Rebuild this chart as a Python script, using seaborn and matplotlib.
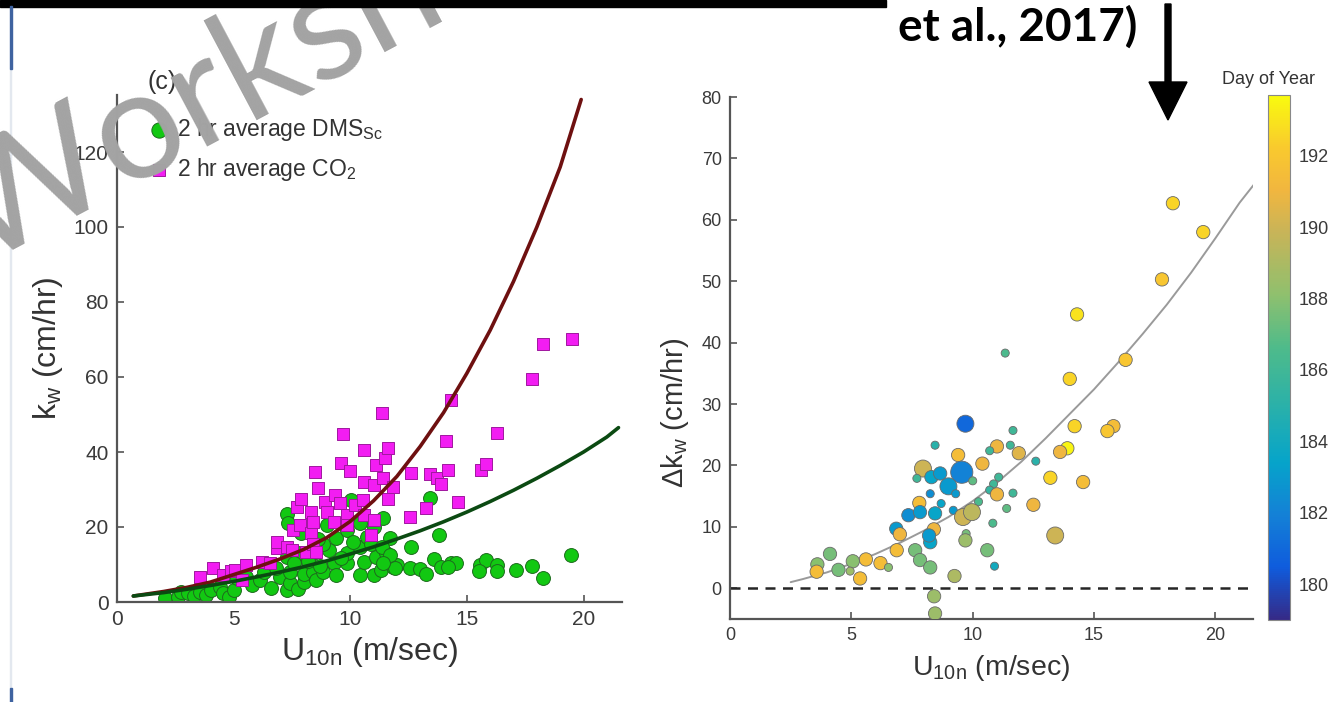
import matplotlib
matplotlib.use("Agg")
import matplotlib.pyplot as plt
import matplotlib.colors as mcolors
import matplotlib.patches as mpatches
import numpy as np
import pandas as pd
import seaborn as sns

# ---- data ----
# left panel: 2 hr averages
dms_u = [2.05, 2.6, 2.75, 3.05, 3.3, 3.55, 3.8, 4.05, 4.4, 4.55, 4.8, 5.0, 5.15, 5.55, 5.8,
         6.15, 6.3, 6.6, 7.0, 7.3, 7.4, 7.4, 7.75, 8.0, 8.0, 8.4, 8.55, 8.85, 9.3, 9.4,
         9.85, 10.4, 11.0, 11.3, 11.85, 10.6, 11.1, 7.3, 7.85, 8.4, 9.1, 9.85, 10.4, 11.55, 8.85,
         9.4, 10.7, 11.7, 9.85, 10.4, 11.0, 11.4, 10.05, 7.3, 7.35, 6.8, 7.6, 8.2, 8.7, 9.6,
         10.1, 10.9, 8.6, 12.0, 13.4, 13.8, 12.6, 11.35, 11.7, 13.6, 14.3, 14.55, 13.9, 14.2, 11.9,
         12.55, 13.0, 13.25, 15.55, 15.8, 15.5, 16.3, 16.3, 17.1, 17.8, 18.25, 19.45, 11.4, 7.9, 9.0]
dms_k = [1.0, 1.3, 2.7, 2.3, 1.5, 2.7, 1.8, 3.2, 4.1, 2.3, 1.4, 3.2, 6.3, 6.7, 4.5,
         5.9, 8.1, 3.8, 6.7, 3.2, 5.0, 8.1, 3.6, 5.4, 7.6, 8.1, 5.9, 8.1, 10.3, 7.2,
         10.3, 7.2, 7.2, 8.5, 9.4, 10.8, 12.1, 12.1, 13.0, 13.0, 13.9, 13.0, 14.8, 13.0, 15.6,
         17.0, 17.4, 17.0, 19.2, 21.0, 20.1, 22.3, 27.2, 23.6, 21.0, 9.0, 10.5, 11.0, 9.6, 11.8,
         16.0, 15.5, 16.8, 10.0, 27.8, 18.0, 14.7, 14.7, 12.5, 11.6, 10.5, 10.5, 9.4, 9.3, 9.2,
         9.2, 8.7, 7.6, 9.9, 11.2, 8.4, 9.9, 8.4, 8.5, 9.6, 6.5, 12.5, 10.4, 18.5, 20.5]

co2_u = [3.55, 4.1, 4.55, 4.9, 5.05, 5.35, 5.55, 6.2, 6.55, 6.85, 6.85, 7.3, 7.5, 7.55, 7.85,
         7.7, 7.9, 8.1, 8.3, 8.3, 8.4, 8.4, 8.55, 8.5, 8.6, 8.9, 9.0, 9.3, 9.35, 9.55,
         9.6, 9.7, 9.85, 9.85, 10.0, 10.2, 10.55, 10.6, 10.6, 10.6, 10.9, 11.0, 11.0, 11.1, 11.35,
         11.4, 11.5, 11.6, 11.6, 11.85, 12.55, 12.6, 13.25, 13.4, 13.7, 13.9, 14.1, 14.2, 14.3, 14.6,
         15.6, 15.8, 16.3, 17.8, 18.25, 19.5]
co2_k = [6.7, 9.0, 7.2, 8.3, 8.5, 5.9, 9.9, 10.7, 10.3, 14.3, 16.1, 14.7, 13.9, 19.2, 20.5,
         25.4, 27.6, 13.4, 18.3, 24.1, 15.6, 21.4, 13.4, 34.6, 30.5, 26.7, 24.1, 21.4, 28.5, 26.3,
         37.2, 44.8, 23.2, 20.5, 34.9, 25.9, 27.2, 23.2, 32.0, 40.5, 17.9, 21.9, 31.2, 36.5, 50.3,
         33.0, 38.3, 41.0, 27.5, 30.8, 22.6, 34.3, 25.0, 34.1, 33.0, 31.5, 43.0, 35.2, 54.0, 26.8,
         35.2, 36.8, 45.2, 59.5, 68.8, 70.0]

# fitted curves
fit_co2_u = [0.7, 2, 3, 4, 5, 6, 7, 8, 9, 10, 11, 12, 13, 14, 15, 16, 17, 18, 19, 19.9]
fit_co2_k = [1.6, 2.8, 3.9, 5.3, 7.3, 9.3, 11.5, 14.0, 17.2, 21.5, 27.0, 33.5, 41.5, 50.5,
             61.0, 72.5, 85.5, 100.0, 116.0, 134.0]
fit_dms_u = [0.7, 2, 3, 4, 5, 6, 7, 8, 9, 10, 11, 12, 13, 14, 15, 16, 17, 18, 19, 20, 21, 21.5]
fit_dms_k = [1.6, 2.5, 3.4, 4.4, 5.5, 6.7, 8.0, 9.4, 11.0, 12.8, 14.7, 16.8, 19.0, 21.4,
             24.0, 26.8, 29.8, 33.0, 36.4, 40.0, 44.0, 46.5]

# right panel: delta k_w, coloured by day of year, sized by weight class
dk_u = [11.34, 9.7, 11.66, 8.45, 9.4, 11.0, 10.7, 11.55, 11.9, 10.4, 7.95, 9.55, 10.0, 8.3, 8.66,
        7.7, 9.0, 9.3, 8.25, 11.07, 10.86, 10.7, 11.0, 11.66, 7.8, 8.7, 9.2, 10.24, 7.35, 7.83,
        9.6, 9.97, 11.4, 10.83, 8.45, 6.85, 7.0, 8.4, 8.25, 8.2, 9.73, 9.7, 6.87, 7.63, 7.83,
        8.25, 10.6, 10.9, 9.25, 5.6, 6.2, 5.36, 6.53, 5.06, 4.95, 4.47, 4.12, 3.6, 3.57, 8.41,
        8.45, 18.25, 19.5, 17.8, 14.3, 16.3, 14.0, 14.2, 15.8, 15.55, 13.9, 13.6, 12.6, 13.2, 14.55,
        12.5, 13.4]
dk_val = [38.3, 26.8, 25.7, 23.3, 21.7, 23.1, 22.4, 23.3, 22.0, 20.3, 19.5, 18.9, 17.5, 18.1, 18.7,
          17.9, 16.6, 15.4, 15.4, 18.1, 17.0, 16.0, 15.3, 15.5, 13.9, 13.8, 12.7, 14.1, 11.9, 12.4,
          11.6, 12.4, 13.0, 10.6, 12.2, 9.7, 8.8, 9.6, 7.5, 8.6, 8.9, 7.8, 6.2, 6.2, 4.6,
          3.4, 6.2, 3.6, 2.0, 4.7, 4.1, 1.6, 3.4, 4.4, 2.8, 3.0, 5.6, 3.9, 2.7, -1.3,
          -4.1, 62.7, 58.0, 50.3, 44.6, 37.2, 34.1, 26.4, 26.4, 25.6, 22.8, 22.2, 20.7, 18.0, 17.3,
          13.6, 8.6]
dk_day = [186.5, 181.0, 186.0, 185.0, 191.5, 191.0, 186.0, 186.0, 190.5, 191.0, 190.0, 182.0, 187.0, 183.5, 183.0,
          186.0, 183.0, 183.0, 182.5, 186.0, 186.0, 185.5, 191.0, 186.0, 191.5, 183.5, 183.0, 186.5, 182.5, 183.0,
          190.0, 189.5, 187.0, 186.5, 183.5, 183.0, 191.0, 191.0, 183.5, 183.0, 187.5, 188.5, 191.5, 187.5, 187.5,
          187.5, 187.5, 184.0, 189.0, 191.5, 191.5, 191.5, 188.0, 188.0, 188.5, 187.5, 187.5, 188.0, 191.5, 188.5,
          188.5, 192.5, 192.5, 192.0, 193.0, 192.0, 192.5, 192.5, 191.5, 192.0, 193.5, 191.0, 185.0, 192.5, 191.5,
          191.0, 190.0]
dk_weight = [1, 3, 1, 1, 2, 2, 1, 1, 2, 2, 3, 4, 1, 2, 2,
             1, 3, 1, 1, 1, 1, 1, 2, 1, 2, 1, 1, 1, 2, 2,
             3, 3, 1, 1, 2, 2, 2, 2, 2, 2, 1, 2, 2, 2, 2,
             2, 2, 1, 2, 2, 2, 2, 1, 2, 1, 2, 2, 2, 2, 2,
             2, 2, 2, 2, 2, 2, 2, 2, 2, 2, 2, 2, 1, 2, 2,
             2, 3]

fit_dk_u = [2.5, 3, 4, 5, 6, 7, 8, 9, 10, 11, 12, 13, 14, 15, 16, 17, 18, 19, 20, 21, 21.6]
fit_dk_v = [1.0, 1.5, 2.6, 4.0, 5.6, 7.4, 9.4, 11.6, 14.2, 17.2, 20.6, 24.4, 28.4, 32.4,
            36.8, 41.4, 46.2, 51.4, 57.0, 62.8, 65.8]

cb_ticks = [180, 182, 184, 186, 188, 190, 192]

# ---- style ----
sns.set_style("white")
plt.rcParams["font.family"] = ["Liberation Sans", "DejaVu Sans"]
plt.rcParams["mathtext.default"] = "regular"

W, H = 1332, 702
fig = plt.figure(figsize=(W / 100, H / 100), dpi=100)
fig.patch.set_facecolor("white")

def fx(px):
    return px / W

def fy(py):
    return 1 - py / H

def box(l, t, r, b):
    return [fx(l), fy(b), fx(r) - fx(l), fy(t) - fy(b)]

parula = mcolors.LinearSegmentedColormap.from_list("parula_like", [
    (0.00, "#352a87"), (0.10, "#0f5cdd"), (0.20, "#1481d6"), (0.30, "#06a4ca"),
    (0.42, "#2eb2a6"), (0.52, "#4fbb8a"), (0.62, "#8fc06e"), (0.74, "#c8b458"),
    (0.82, "#f1b63f"), (0.90, "#f9c92e"), (1.00, "#f9fb0e")])
vmin, vmax = 179.0, 193.7

spine_col = "#555555"
tick_col = "#3a3a3a"
label_col = "#333333"

def style_axes(ax, fs):
    sns.despine(ax=ax)
    for s in ["left", "bottom"]:
        ax.spines[s].set_color(spine_col)
        ax.spines[s].set_linewidth(1.6)
    ax.tick_params(direction="in", length=5, width=1.2, color=spine_col,
                   labelsize=fs, labelcolor=tick_col, left=True, bottom=True, pad=6)

# ---- left panel ----
ax1 = fig.add_axes(box(117, 95, 622, 602))
df_co2 = pd.DataFrame({"u": co2_u, "k": co2_k})
df_dms = pd.DataFrame({"u": dms_u, "k": dms_k})
sns.scatterplot(data=df_dms, x="u", y="k", ax=ax1, marker="o", s=100,
                color="#12c812", edgecolor="#1d6b1d", linewidth=0.7, zorder=2,
                label="2 hr average DMS$_{Sc}$")
sns.scatterplot(data=df_co2, x="u", y="k", ax=ax1, marker="s", s=70,
                color="#f21df2", edgecolor="#a0189f", linewidth=0.7, zorder=3,
                label="2 hr average CO$_2$")
sns.lineplot(x=fit_co2_u, y=fit_co2_k, ax=ax1, color="#6e1010", lw=2.6, zorder=4,
             estimator=None, sort=False, legend=False)
sns.lineplot(x=fit_dms_u, y=fit_dms_k, ax=ax1, color="#0b4a12", lw=2.6, zorder=4,
             estimator=None, sort=False, legend=False)
ax1.set_xlim(0, 21.65)
ax1.set_ylim(0, 135.2)
ax1.set_xticks([0, 5, 10, 15, 20])
ax1.set_yticks([0, 20, 40, 60, 80, 100, 120])
style_axes(ax1, 15)
ax1.set_xlabel("U$_{10n}$ (m/sec)", fontsize=23, color=label_col, labelpad=4)
ax1.set_ylabel("k$_w$ (cm/hr)", fontsize=23, color=label_col, labelpad=6)
leg = ax1.legend(loc="upper left", bbox_to_anchor=(0.03, 0.99), frameon=False,
                 fontsize=16.5, handletextpad=0.35, labelspacing=0.55,
                 handlelength=0.9, borderaxespad=0.3, markerscale=1.1)
for t in leg.get_texts():
    t.set_color(label_col)
fig.text(fx(162), fy(82), "(c)", fontsize=18, color=label_col, ha="center", va="center")

# ---- right panel ----
ax2 = fig.add_axes(box(730, 97, 1253, 619))
df_dk = pd.DataFrame({"u": dk_u, "dk": dk_val, "day": dk_day, "w": dk_weight})
ax2.axhline(0, color="#262626", lw=1.8, ls=(0, (4, 3)), zorder=1)
sns.lineplot(x=fit_dk_u, y=fit_dk_v, ax=ax2, color="#9a9a9a", lw=1.4, zorder=2,
             estimator=None, sort=False, legend=False)
sns.scatterplot(data=df_dk, x="u", y="dk", hue="day", size="w", ax=ax2,
                palette=parula, hue_norm=(vmin, vmax),
                sizes={1: 34, 2: 92, 3: 150, 4: 255}, edgecolor="#6a6a6a",
                linewidth=0.6, legend=False, zorder=3)
ax2.set_xlim(0, 21.55)
ax2.set_ylim(-5, 80)
ax2.set_xticks([0, 5, 10, 15, 20])
ax2.set_yticks([0, 10, 20, 30, 40, 50, 60, 70, 80])
style_axes(ax2, 13)
ax2.set_xlabel("U$_{10n}$ (m/sec)", fontsize=20.5, color=label_col, labelpad=6)
ax2.set_ylabel("$\\Delta$k$_w$ (cm/hr)", fontsize=21, color=label_col)
ax2.yaxis.set_label_coords(-0.075, 0.395)

cax = fig.add_axes(box(1268, 95, 1290, 620))
sm = plt.cm.ScalarMappable(norm=mcolors.Normalize(vmin, vmax), cmap=parula)
cb = fig.colorbar(sm, cax=cax, ticks=cb_ticks)
cb.outline.set_edgecolor("#888888")
cb.outline.set_linewidth(0.8)
cax.tick_params(direction="in", length=4, width=1, color="#555555",
                labelsize=13, labelcolor=tick_col, pad=6)
fig.text(fx(1222), fy(80), "Day of Year", fontsize=13, color=label_col,
         ha="left", va="center")

# ---- slide decorations ----
fig.add_artist(mpatches.Rectangle((0, fy(7)), fx(886), fy(0) - fy(7),
                                  transform=fig.transFigure, color="black", zorder=20))
fig.add_artist(mpatches.Rectangle((fx(10), fy(69)), fx(2), fy(6) - fy(69),
                                  transform=fig.transFigure, color="#3f63a0", zorder=20))
fig.add_artist(mpatches.Rectangle((fx(10), fy(702)), fx(2), fy(688) - fy(702),
                                  transform=fig.transFigure, color="#3f63a0", zorder=20))
fig.add_artist(mpatches.Rectangle((fx(10), fy(688)), fx(1), fy(69) - fy(688),
                                  transform=fig.transFigure, color="#e3e8ef", zorder=0))
fig.text(fx(1018), fy(27), "et al., 2017)", fontsize=33, fontweight="bold",
         family="Lato", color="black", ha="center", va="center", zorder=20)
arrow = mpatches.Polygon([(fx(1165), fy(4)), (fx(1171), fy(4)), (fx(1171), fy(82)),
                          (fx(1187), fy(82)), (fx(1168), fy(120)), (fx(1149), fy(82)),
                          (fx(1165), fy(82))], closed=True, transform=fig.transFigure,
                         color="black", zorder=20)
fig.add_artist(arrow)
fig.text(fx(-20), fy(266), "Worksheets", fontsize=111, family="Lato",
         color="#a3a3a3", rotation=28, rotation_mode="anchor", ha="left",
         va="baseline", zorder=15)

fig.savefig("out.png", dpi=100)
